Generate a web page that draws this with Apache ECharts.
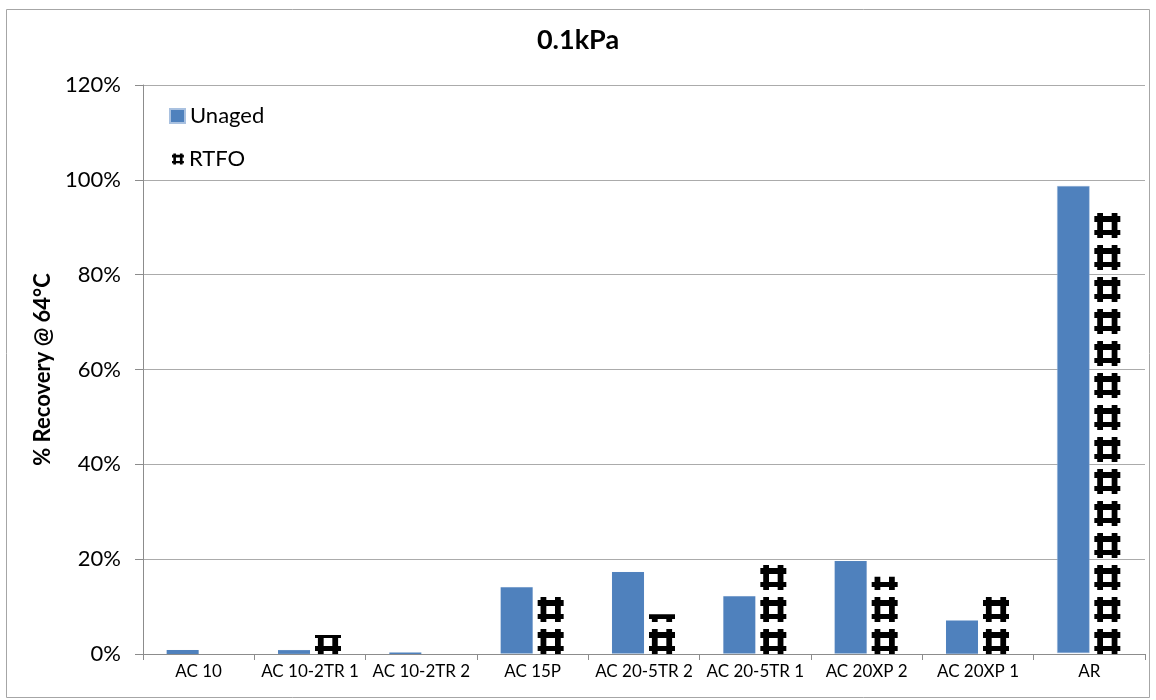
<!DOCTYPE html>
<html>
<head>
<meta charset="utf-8">
<title>0.1kPa</title>
<script src="https://cdn.jsdelivr.net/npm/echarts/dist/echarts.min.js"></script>
<style>
  html, body { margin: 0; padding: 0; background: #ffffff; }
  #chart { width: 1156px; height: 700px; }
</style>
</head>
<body>
<div id="chart"></div>
<script>
// Binder names along the x axis
const categories = ['AC 10', 'AC 10-2TR 1', 'AC 10-2TR 2', 'AC 15P', 'AC 20-5TR 2', 'AC 20-5TR 1', 'AC 20XP 2', 'AC 20XP 1', 'AR'];
// % recovery at 64 °C, 0.1 kPa
const unaged = [0.8, 0.8, 0.3, 14.0, 17.2, 12.1, 19.5, 7.0, 98.4];
const rtfo = [0, 4.0, 0, 12.0, 8.4, 19.3, 16.3, 12.4, 93.5];
// value axis range and step (percent)
const yMin = 0, yMax = 120, yStep = 20;

const FONT = 'Lato';
const BLUE = '#4F81BD';
const GRID_GRAY = '#ababab';

// hollow-square glyph used as the RTFO fill pattern
const glyph = 'path://M3 0h6v25h-6z M18 0h6v25h-6z M0 3h27v6h-27z M0 17h27v5h-27z';

const chart = echarts.init(document.getElementById('chart'), null, { renderer: 'canvas' });

chart.setOption({
  backgroundColor: '#ffffff',
  animation: false,
  textStyle: { fontFamily: FONT, color: '#000' },
  title: {
    text: '0.1kPa',
    left: 'center',
    top: 27,
    padding: 0,
    textStyle: { fontFamily: FONT, fontSize: 27, fontWeight: 'bold', color: '#000' }
  },
  legend: [
    {
      orient: 'vertical',
      left: 169,
      top: 105,
      padding: 0,
      itemWidth: 15,
      itemHeight: 14,
      textStyle: { fontFamily: FONT, fontSize: 22, color: '#000' },
      data: [{ name: 'Unaged', icon: 'rect' }]
    },
    {
      orient: 'vertical',
      left: 172,
      top: 148,
      padding: 0,
      itemWidth: 12,
      itemHeight: 11,
      textStyle: { fontFamily: FONT, fontSize: 22, color: '#000' },
      data: [{ name: 'RTFO', icon: glyph, itemStyle: { color: '#000' } }]
    }
  ],
  grid: { left: 143, right: 11, top: 85, bottom: 46, containLabel: false },
  xAxis: {
    type: 'category',
    data: categories,
    axisLine: { show: true, lineStyle: { color: '#8c8c8c', width: 1 } },
    axisTick: { show: true, alignWithLabel: false, length: 6, lineStyle: { color: '#8c8c8c' } },
    axisLabel: { fontFamily: FONT, fontSize: 17, color: '#000', margin: 9, interval: 0 },
    splitLine: { show: false }
  },
  yAxis: {
    type: 'value',
    min: yMin,
    max: yMax,
    interval: yStep,
    name: '% Recovery @ 64°C',
    nameLocation: 'middle',
    nameGap: 86,
    nameTextStyle: { fontFamily: FONT, fontSize: 22, fontWeight: 'bold', color: '#000' },
    axisLine: { show: true, lineStyle: { color: '#8c8c8c', width: 1 } },
    axisTick: { show: true, length: 8, lineStyle: { color: '#8c8c8c' } },
    axisLabel: { fontFamily: FONT, fontSize: 22, color: '#000', margin: 22, formatter: '{value}%' },
    splitLine: { show: true, lineStyle: { color: GRID_GRAY, width: 1 } }
  },
  series: [
    {
      name: 'Unaged',
      type: 'pictorialBar',
      barWidth: 32,
      barGap: '0%',
      symbol: 'rect',
      symbolSize: ['100%', '100%'],
      symbolRepeat: false,
      itemStyle: { color: BLUE, borderColor: '#a9c1e0', borderWidth: 0.6 },
      data: unaged
    },
    {
      name: 'RTFO',
      type: 'pictorialBar',
      barWidth: 32,
      barGap: '0%',
      symbol: glyph,
      symbolSize: [26, 25],
      symbolRepeat: true,
      symbolMargin: 3.5,
      symbolClip: true,
      symbolOffset: [2, 0],
      symbolPosition: 'start',
      itemStyle: { color: '#000' },
      data: rtfo
    }
  ],
  graphic: [
    {
      type: 'rect',
      silent: true,
      shape: { x: 6.5, y: 9.5, width: 1143, height: 688 },
      style: { fill: 'none', stroke: '#a6a6a6', lineWidth: 1 }
    }
  ]
});
</script>
</body>
</html>
